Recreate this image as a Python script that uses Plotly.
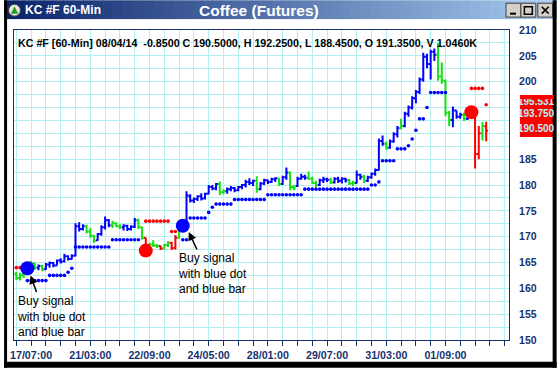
import plotly.graph_objects as go

# ------------------------------------------------------------------ data
bar_index = list(range(128))
bar_trend = list(
    "GGGBGGBGBBBBBBBB"
    "BBBGGGBBBBGGGBBB"
    "BGGRGGGRGGRRGBBB"
    "BBBBBBBGGBBBBBBB"
    "BGBBBBBGBBGGBBBG"
    "GGBBBGBBBBGGBBGB"
    "BBBBGBBBGBBBBBBB"
    "BBGGGGBBBGBBRRGR"
)
bar_open = [
    162.8, 162.0, 162.6, 163.2, 164.2, 164.8, 164.0, 164.3, 163.7, 164.6, 164.9, 164.4, 165.4, 165.2, 166.2, 165.7,
    166.3, 172.0, 171.5, 172.0, 171.0, 170.2, 169.3, 170.5, 171.8, 173.2, 172.2, 172.6, 172.0, 171.8, 172.1, 171.5,
    171.9, 173.2, 171.8, 169.8, 167.8, 168.5, 168.3, 168.2, 167.7, 168.4, 168.8, 167.8, 169.8, 172.6, 172.3, 177.8,
    177.0, 177.3, 177.8, 177.4, 178.3, 179.6, 179.3, 180.2, 178.6, 178.8, 179.2, 179.4, 179.0, 179.6, 180.0, 180.6,
    180.4, 180.8, 179.2, 180.3, 180.9, 180.6, 181.1, 181.3, 180.2, 181.5, 182.4, 179.6, 179.8, 181.2, 181.6, 181.4,
    181.2, 180.4, 180.0, 180.9, 181.1, 181.0, 180.5, 181.2, 180.8, 181.2, 180.9, 180.3, 180.4, 182.0, 181.6, 180.8,
    181.5, 182.2, 182.9, 188.5, 188.0, 187.2, 188.4, 189.8, 191.0, 191.4, 193.8, 195.0, 196.8, 198.0, 200.4, 204.8,
    203.4, 205.8, 205.2, 201.0, 200.2, 194.0, 192.6, 194.4, 193.2, 193.6, 192.8, 193.8, 193.0, 186.0, 190.0, 191.35,
]
bar_high = [
    163.2, 163.0, 163.5, 164.5, 165.3, 165.0, 164.6, 164.5, 164.9, 165.2, 165.1, 165.6, 165.8, 166.7, 166.4, 166.6,
    172.6, 172.8, 172.4, 172.3, 171.7, 170.3, 170.7, 172.2, 173.9, 173.4, 173.1, 172.8, 172.4, 172.4, 172.3, 172.2,
    173.6, 173.5, 171.9, 169.8, 168.8, 169.3, 168.6, 168.3, 168.6, 169.1, 169.0, 170.3, 173.0, 173.0, 178.8, 178.2,
    177.6, 178.0, 178.4, 178.5, 180.0, 180.0, 180.4, 180.7, 179.2, 179.5, 179.8, 179.6, 179.8, 180.2, 181.0, 181.3,
    181.0, 181.7, 180.6, 181.2, 181.0, 181.4, 181.5, 181.3, 181.8, 183.4, 182.6, 180.0, 181.6, 182.2, 182.0, 182.6,
    181.6, 180.8, 181.2, 181.6, 181.4, 181.4, 181.5, 181.6, 181.5, 181.4, 181.2, 180.8, 182.8, 182.2, 182.0, 181.8,
    182.4, 183.2, 189.0, 189.6, 188.4, 188.8, 190.2, 191.4, 192.8, 194.2, 195.4, 197.2, 198.4, 200.8, 205.6, 205.4,
    206.2, 206.4, 207.5, 203.7, 200.4, 194.3, 195.2, 194.4, 194.0, 194.0, 194.2, 194.6, 193.3, 191.4, 192.2, 192.25,
]
bar_low = [
    161.6, 161.5, 162.0, 162.6, 163.2, 163.6, 163.5, 163.3, 163.6, 164.0, 164.1, 164.4, 164.8, 165.0, 165.4, 165.6,
    166.2, 171.0, 171.2, 170.6, 169.8, 168.8, 169.2, 170.2, 171.4, 171.8, 171.7, 171.8, 171.5, 171.2, 171.1, 171.2,
    171.7, 171.5, 169.4, 166.8, 167.6, 168.0, 167.8, 167.4, 167.5, 168.0, 167.4, 167.5, 169.6, 171.2, 172.0, 176.6,
    176.5, 176.9, 177.0, 177.2, 178.2, 179.0, 179.0, 178.0, 178.2, 178.3, 178.8, 178.6, 178.8, 179.2, 179.5, 180.0,
    179.8, 178.5, 179.0, 180.0, 180.2, 180.4, 180.6, 179.8, 180.0, 181.0, 179.0, 179.0, 179.6, 181.0, 181.0, 181.0,
    180.2, 179.5, 179.8, 180.4, 180.6, 180.2, 180.3, 180.4, 180.3, 180.5, 180.0, 179.8, 180.3, 181.0, 180.4, 180.6,
    181.2, 181.8, 182.8, 187.6, 186.8, 187.0, 188.2, 189.2, 190.8, 191.2, 193.2, 194.6, 195.8, 197.6, 200.0, 202.6,
    200.4, 204.0, 200.2, 199.6, 193.3, 191.4, 191.2, 192.8, 192.8, 192.4, 192.6, 193.0, 183.2, 185.0, 188.6, 188.45,
]
bar_close = [
    162.0, 162.6, 163.2, 164.2, 164.8, 164.0, 164.3, 163.7, 164.6, 164.9, 164.4, 165.4, 165.2, 166.2, 165.7, 166.3,
    172.0, 171.5, 172.0, 171.0, 170.2, 169.2, 170.5, 171.8, 173.2, 172.2, 172.6, 172.0, 171.8, 172.1, 171.5, 171.9,
    173.2, 171.8, 169.8, 167.3, 168.5, 168.3, 168.2, 167.7, 168.4, 168.8, 167.8, 169.8, 172.6, 172.3, 178.0, 177.0,
    177.3, 177.8, 177.4, 178.3, 179.6, 179.3, 180.2, 178.6, 178.8, 179.2, 179.4, 179.0, 179.6, 180.0, 180.6, 180.4,
    180.8, 179.2, 180.3, 180.9, 180.6, 181.1, 181.3, 180.2, 181.5, 182.4, 179.6, 179.4, 181.2, 181.6, 181.4, 181.2,
    180.4, 180.0, 180.9, 181.1, 181.0, 180.5, 181.2, 180.8, 181.2, 180.9, 180.3, 180.4, 182.0, 181.6, 180.8, 181.5,
    182.2, 182.9, 188.5, 188.0, 187.2, 188.4, 189.8, 191.0, 191.4, 193.8, 195.0, 196.8, 198.0, 200.4, 204.8, 203.4,
    205.8, 205.2, 201.0, 200.2, 194.0, 192.6, 194.4, 193.2, 193.6, 192.8, 193.8, 194.0, 186.0, 190.0, 191.4, 190.50,
]
N_ = None
blue_stop = [
    N_, N_, N_, 161.5, 161.5, 161.5, 161.5, 161.5, 161.5, 162.5, 162.5, 162.5, 162.5, 162.5, 163.1, 163.9,
    168.0, 168.0, 168.0, 168.0, 168.0, 168.0, 168.0, 168.0, 168.0, 168.0, 169.4, 169.4, 169.4, 169.4, 169.4, 169.4,
    169.4, 169.4, N_, N_, N_, N_, N_, N_, N_, N_, N_, N_, N_, 169.4, 169.4, 173.6,
    173.6, 173.6, 173.6, 173.6, 174.7, 175.7, 176.3, 176.3, 176.3, 176.3, 176.3, 177.2, 177.2, 177.2, 177.2, 177.2,
    177.2, 177.2, 177.2, 177.2, 178.1, 178.1, 178.1, 178.1, 178.1, 178.1, 178.1, 178.1, 178.1, 178.1, 179.2, 179.2,
    179.2, 179.2, 179.2, 179.2, 179.2, 179.2, 179.2, 179.2, 179.2, 179.2, 179.2, 179.2, 179.2, 179.2, 179.2, 179.2,
    180.0, 180.0, 180.6, 184.7, 184.7, 184.7, 184.7, 187.0, 187.0, 187.0, 187.6, 188.9, 190.6, 192.8, 192.8, 195.0,
    197.9, 197.9, 197.9, 197.9, 197.9, N_, N_, N_, N_, N_, N_, N_, N_, N_, N_, N_,
]
red_stop = [
    164.0, 164.0, 164.0, N_, N_, N_, N_, N_, N_, N_, N_, N_, N_, N_, N_, N_,
    N_, N_, N_, N_, N_, N_, N_, N_, N_, N_, N_, N_, N_, N_, N_, N_,
    N_, N_, N_, 173.0, 173.0, 173.0, 173.0, 173.0, 173.0, 173.0, 171.0, 171.0, N_, N_, N_, N_,
    N_, N_, N_, N_, N_, N_, N_, N_, N_, N_, N_, N_, N_, N_, N_, N_,
    N_, N_, N_, N_, N_, N_, N_, N_, N_, N_, N_, N_, N_, N_, N_, N_,
    N_, N_, N_, N_, N_, N_, N_, N_, N_, N_, N_, N_, N_, N_, N_, N_,
    N_, N_, N_, N_, N_, N_, N_, N_, N_, N_, N_, N_, N_, N_, N_, N_,
    N_, N_, N_, N_, N_, N_, N_, N_, N_, N_, N_, 198.7, 198.7, 198.7, 198.7, 195.531,
]
buy_x = [3, 45]
buy_y = [163.9, 172.1]
sell_x = [35, 123]
sell_y = [167.3, 194.1]

x_label_pos = [4, 20, 36, 52, 68, 84, 100, 116]
x_labels = ["17/07:00", "21/03:00", "22/09:00", "24/05:00", "28/01:00", "29/07:00", "31/03:00", "01/09:00"]
y_labels = [150, 155, 160, 165, 170, 175, 180, 185, 200, 205, 210]
price_tags = [195.531, 193.750, 190.500]

symbol = "KC #F"
interval = "60-Min"
bar_date = "08/04/14"
net_change = -0.85
last_volume = "1.0460K"
title_name = "Coffee (Futures)"
note_text = "Buy signal<br>with blue dot<br>and blue bar"

# ------------------------------------------------------------------ geometry helpers
W, H = 557, 371
L, R, T, B = 10, 509, 30, 343
NAVY = "#17336f"
GRID = "#b4f0f0"
FONT = "Liberation Sans, Arial, sans-serif"


def px(x):
    return (x - L) / (R - L)


def py(y):
    return (B - y) / (B - T)


fig = go.Figure()

# stop dots
fig.add_trace(go.Scatter(x=bar_index, y=blue_stop, mode="markers",
                         marker=dict(color="#0000ff", size=3.6), hoverinfo="skip"))
fig.add_trace(go.Scatter(x=bar_index, y=red_stop, mode="markers",
                         marker=dict(color="#ff0000", size=3.6), hoverinfo="skip"))

# price bars, one trace per trend colour
for key, col in [("B", "#0000ff"), ("G", "#14e014"), ("R", "#ff0000")]:
    sel = [t == key for t in bar_trend]
    fig.add_trace(go.Ohlc(
        x=bar_index,
        open=[v if s else None for v, s in zip(bar_open, sel)],
        high=[v if s else None for v, s in zip(bar_high, sel)],
        low=[v if s else None for v, s in zip(bar_low, sel)],
        close=[v if s else None for v, s in zip(bar_close, sel)],
        increasing=dict(line=dict(color=col, width=2)),
        decreasing=dict(line=dict(color=col, width=2)),
        tickwidth=0.5, hoverinfo="skip"))

# signal dots
fig.add_trace(go.Scatter(x=buy_x, y=buy_y, mode="markers",
                         marker=dict(color="#0000ff", size=14), hoverinfo="skip"))
fig.add_trace(go.Scatter(x=sell_x, y=sell_y, mode="markers",
                         marker=dict(color="#ff0000", size=14), hoverinfo="skip"))

# ------------------------------------------------------------------ axes
grid_x = list(range(0, 134, 4))
grid_x_text = [x_labels[x_label_pos.index(v)] if v in x_label_pos else "" for v in grid_x]
grid_y = [150 + 2.5 * k for k in range(25)]
grid_y_text = [str(int(v)) if v in y_labels else "" for v in grid_y]

fig.update_xaxes(range=[-0.62, 133.17], tickmode="array", tickvals=grid_x, ticktext=grid_x_text,
                 showgrid=True, gridcolor=GRID, gridwidth=1, zeroline=False,
                 ticks="outside", ticklen=5, tickcolor=NAVY, tickwidth=1,
                 showline=True, linecolor=NAVY, linewidth=1, mirror=True,
                 tickfont=dict(family=FONT, size=10.7, color=NAVY, weight="bold"),
                 rangeslider=dict(visible=False), fixedrange=True)
fig.update_yaxes(range=[150, 210], side="right", tickmode="array", tickvals=grid_y, ticktext=grid_y_text,
                 showgrid=True, gridcolor=GRID, gridwidth=1, zeroline=False, ticks="",
                 showline=True, linecolor=NAVY, linewidth=1, mirror=True,
                 ticklabelstandoff=7,
                 tickfont=dict(family=FONT, size=10.5, color=NAVY, weight="bold"), fixedrange=True)

# ------------------------------------------------------------------ window chrome (shapes)
shapes = []
c0, c1 = (10, 36, 106), (166, 202, 240)
nstrip = 56
for k in range(nstrip):
    t = k / (nstrip - 1)
    col = "rgb(%d,%d,%d)" % tuple(round(a + (b - a) * t) for a, b in zip(c0, c1))
    shapes.append(dict(type="rect", xref="paper", yref="paper",
                       x0=px(k * 10), x1=px(k * 10 + 10.6), y0=py(19), y1=py(0),
                       fillcolor=col, line=dict(width=0), layer="above"))
# icon
shapes.append(dict(type="circle", xref="paper", yref="paper", x0=px(4.5), x1=px(16.5), y0=py(16), y1=py(4),
                   fillcolor="#e8e8e8", line=dict(color="#404040", width=1)))
shapes.append(dict(type="path", xref="paper", yref="paper",
                   path="M %f,%f L %f,%f L %f,%f Z" % (px(10.5), py(6), px(6.8), py(13.5), px(14.2), py(13.5)),
                   fillcolor="#1fa01f", line=dict(width=0)))
# title buttons
for bx0, bx1 in [(506, 521), (521, 536), (538, 553)]:
    shapes.append(dict(type="rect", xref="paper", yref="paper", x0=px(bx0), x1=px(bx1), y0=py(17), y1=py(3),
                       fillcolor="#d4d0c8", line=dict(color="#404040", width=1)))
shapes.append(dict(type="line", xref="paper", yref="paper", x0=px(510), x1=px(516), y0=py(13.5), y1=py(13.5),
                   line=dict(color="black", width=2)))
shapes.append(dict(type="rect", xref="paper", yref="paper", x0=px(524.5), x1=px(532.5), y0=py(14), y1=py(6.5),
                   line=dict(color="black", width=1.5)))
shapes.append(dict(type="line", xref="paper", yref="paper", x0=px(542), x1=px(549), y0=py(13.5), y1=py(6.5),
                   line=dict(color="black", width=1.6)))
shapes.append(dict(type="line", xref="paper", yref="paper", x0=px(542), x1=px(549), y0=py(6.5), y1=py(13.5),
                   line=dict(color="black", width=1.6)))
# price tag box
shapes.append(dict(type="rect", xref="paper", yref="paper", x0=px(520), x1=px(556), y0=py(138), y1=py(96),
                   fillcolor="#ff0000", line=dict(width=0)))
# black frame
for x0, x1, y0, y1 in [(0, 3, 0, 371), (553, 557, 0, 371), (0, 557, 365, 371)]:
    shapes.append(dict(type="rect", xref="paper", yref="paper", x0=px(x0), x1=px(x1), y0=py(y1), y1=py(y0),
                       fillcolor="black", line=dict(width=0)))

# ------------------------------------------------------------------ text
ann = []
ann.append(dict(xref="paper", yref="paper", x=px(19), y=py(10), xanchor="left", yanchor="middle",
                text=symbol + " " + interval, showarrow=False,
                font=dict(family=FONT, size=12, color="white", weight="bold")))
ann.append(dict(xref="paper", yref="paper", x=px(257), y=py(10), xanchor="center", yanchor="middle",
                text=title_name, showarrow=False,
                font=dict(family=FONT, size=15.5, color="white", weight="bold")))
header = "%s [%s] %s\u00a0 %.4f C %.4f, H %.4f, L %.4f, O %.4f, V %s" % (
    symbol, interval, bar_date, net_change, bar_close[-1], bar_high[-1], bar_low[-1], bar_open[-1], last_volume)
ann.append(dict(xref="paper", yref="paper", x=px(12), y=py(43), xanchor="left", yanchor="middle",
                text=header, showarrow=False,
                font=dict(family=FONT, size=10.7, color="black", weight="bold")))
# notes
for lx, cy in [(11.3, 319.5), (173.7, 275.5)]:
    ann.append(dict(xref="paper", yref="paper", x=px(lx), y=py(cy), xanchor="left", yanchor="middle",
                    align="left", text=note_text, showarrow=False,
                    font=dict(family=FONT, size=12, color="black")))
# arrows
for tx, ty, axp, ayp in [(3.86, 162.46, 6.5, 18), (46.6, 170.9, 9, 19)]:
    ann.append(dict(xref="x", yref="y", x=tx, y=ty, ax=axp, ay=ayp, text="", showarrow=True,
                    arrowhead=2, arrowsize=1.1, arrowwidth=1.5, arrowcolor="black", standoff=0))
# price tags
for val, cy in zip(price_tags, [102.5, 114, 129]):
    ann.append(dict(xref="paper", yref="paper", x=px(537), y=py(cy), xanchor="center", yanchor="middle",
                    text="%.3f" % val, showarrow=False,
                    font=dict(family=FONT, size=10, color="#b4f4f8", weight="bold")))
ann.append(dict(xref="paper", yref="paper", x=px(537), y=py(97.8), xanchor="center", yanchor="middle",
                text=" ", showarrow=False, width=34, height=4, bgcolor="#ff0000",
                borderpad=0, borderwidth=0, font=dict(size=2)))

fig.update_layout(width=W, height=H, margin=dict(l=L, r=W - R, t=T, b=H - B, pad=0),
                  paper_bgcolor="white", plot_bgcolor="white", showlegend=False,
                  shapes=shapes, annotations=ann, font=dict(family=FONT))

fig.write_html("out.html", config={"displayModeBar": False, "staticPlot": True},
               post_script="document.body.style.margin='0px';document.body.style.padding='0px';")
